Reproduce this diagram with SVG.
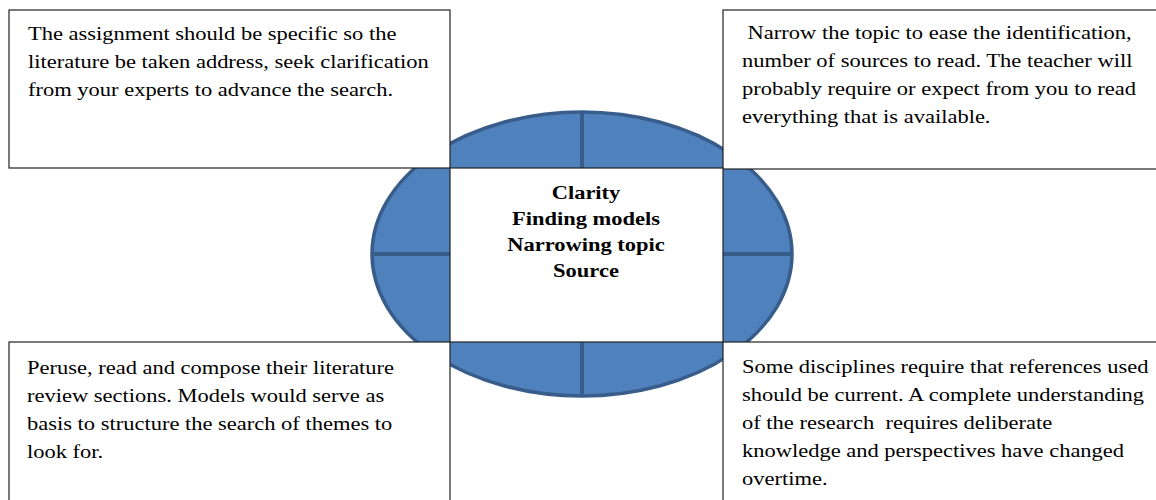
<svg xmlns="http://www.w3.org/2000/svg" width="1156" height="500" viewBox="0 0 1156 500">
<style>
.box{fill:#fff;stroke:#222;stroke-width:1.2}
.t{font-family:"Liberation Serif","Times New Roman",serif;font-size:18px;fill:#000}
.c{font-family:"Liberation Serif","Times New Roman",serif;font-size:18px;font-weight:bold;fill:#000;text-anchor:middle}
.ell{fill:#4f81bd;stroke:#385d8a;stroke-width:3.5}
.cross{stroke:#385d8a;stroke-width:4}
</style>
<rect width="1156" height="500" fill="#fff"/>
<g id="hub">
<ellipse class="ell" cx="582" cy="254" rx="210" ry="142"/>
<line class="cross" x1="582" y1="112" x2="582" y2="396"/>
<line class="cross" x1="372" y1="254" x2="792" y2="254"/>
</g>
<g id="connectors"></g>
<g id="top-left">
<rect class="box" x="9" y="10" width="441" height="158"/>
<g transform="translate(28,0) scale(1.25,1)">
<text class="t" x="0" y="40">The assignment should be specific so the</text>
<text class="t" x="0" y="68">literature be taken address, seek clarification</text>
<text class="t" x="0" y="96">from your experts to advance the search.</text>
</g>
</g>
<g id="top-right">
<rect class="box" x="723" y="10" width="445" height="159"/>
<g transform="translate(742,0) scale(1.25,1)">
<text class="t" x="0" y="39" xml:space="preserve"> Narrow the topic to ease the identification,</text>
<text class="t" x="0" y="67">number of sources to read. The teacher will</text>
<text class="t" x="0" y="95">probably require or expect from you to read</text>
<text class="t" x="0" y="123">everything that is available.</text>
</g>
</g>
<g id="bottom-left">
<rect class="box" x="9" y="342" width="441" height="170"/>
<g transform="translate(27,0) scale(1.25,1)">
<text class="t" x="0" y="374">Peruse, read and compose their literature</text>
<text class="t" x="0" y="402">review sections. Models would serve as</text>
<text class="t" x="0" y="430">basis to structure the search of themes to</text>
<text class="t" x="0" y="458">look for.</text>
</g>
</g>
<g id="bottom-right">
<rect class="box" x="723" y="342" width="445" height="170"/>
<g transform="translate(742,0) scale(1.25,1)">
<text class="t" x="0" y="373">Some disciplines require that references used</text>
<text class="t" x="0" y="401">should be current. A complete understanding</text>
<text class="t" x="0" y="429" xml:space="preserve">of the research  requires deliberate</text>
<text class="t" x="0" y="457">knowledge and perspectives have changed</text>
<text class="t" x="0" y="485">overtime.</text>
</g>
</g>
<g id="center">
<rect class="box" x="450" y="168" width="273" height="174"/>
<g transform="translate(586,0) scale(1.25,1)">
<text class="c" x="0" y="199">Clarity</text>
<text class="c" x="0" y="225">Finding models</text>
<text class="c" x="0" y="251">Narrowing topic</text>
<text class="c" x="0" y="277">Source</text>
</g>
</g>
</svg>
